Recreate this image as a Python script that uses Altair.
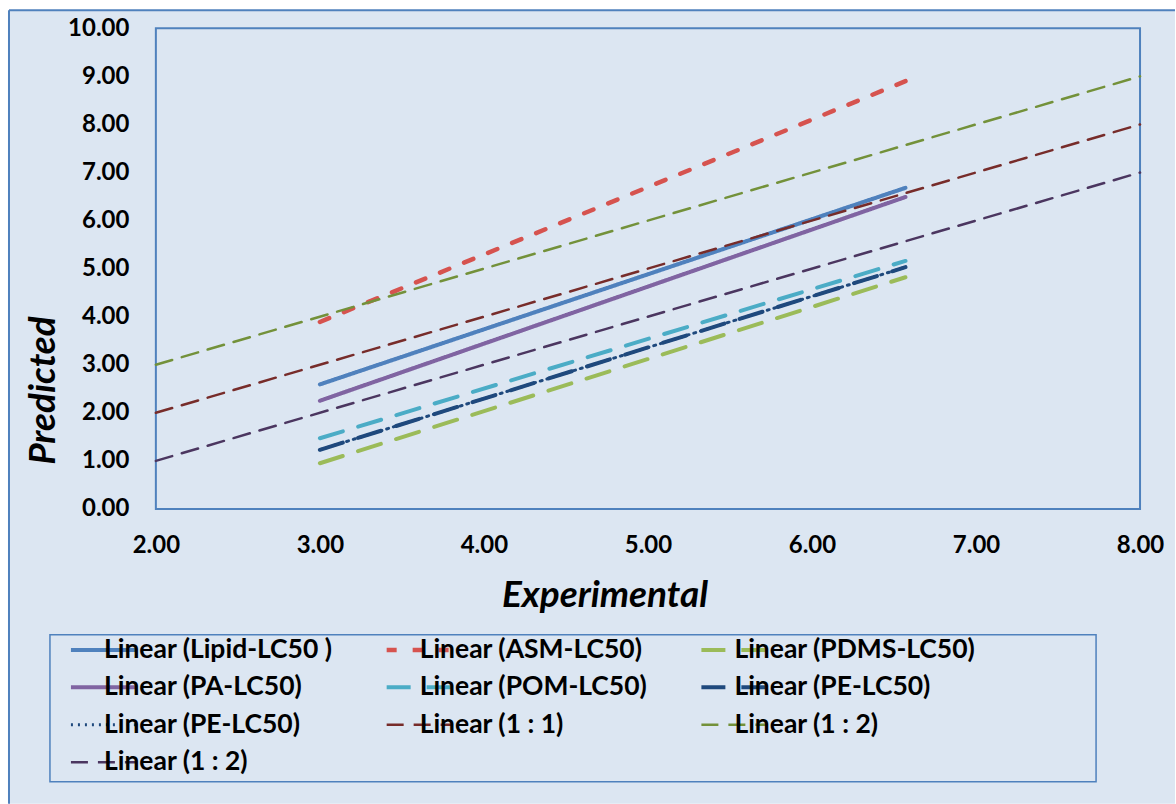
import altair as alt
import pandas as pd

# Trendline series (legend reading order, three columns, row by row)
series = [
    "Linear (Lipid-LC50 )", "Linear (ASM-LC50)", "Linear (PDMS-LC50)",
    "Linear (PA-LC50)", "Linear (POM-LC50)", "Linear (PE-LC50)",
    "Linear (PE-LC50) ", "Linear (1 : 1)", "Linear (1 : 2)",
    "Linear (1 : 2) ",
]
# line group: fitted lines, dotted fit, reference lines
group = ["fit", "fit", "fit", "fit", "fit", "fit", "dot", "ref", "ref", "ref"]

# End points of each fitted line (Experimental -> Predicted)
x_start = [3.00, 3.00, 3.00, 3.00, 3.00, 3.00, 3.00, 2.00, 2.00, 2.00]
x_end   = [6.57, 6.57, 6.57, 6.57, 6.57, 6.57, 6.57, 8.00, 8.00, 8.00]
y_start = [2.59, 3.89, 0.95, 2.25, 1.47, 1.23, 1.23, 2.00, 3.00, 1.00]
y_end   = [6.68, 8.90, 4.82, 6.49, 5.16, 5.03, 5.03, 8.00, 9.00, 7.00]

colors = ["#4f81bd", "#d6534f", "#9bbb59", "#8064a2", "#4bacc6", "#1f497d",
          "#1f497d", "#772c2a", "#73913a", "#4b3660"]
dashes = [[1, 0], [10, 16], [24, 16], [1, 0], [24, 16], [24, 16],
          [2, 5], [17, 10], [17, 10], [17, 10]]
widths = [4, 4.5, 4, 4, 4, 4, 3, 2.5, 2.5, 2.5]
group_width = {"fit": 4, "dot": 3, "ref": 2.5}

# Vega fills a vertical 3-column legend of 10 entries in this sequence;
# ordering the scale domain this way makes the legend read row by row.
slot = [0, 3, 6, 8, 1, 4, 7, 9, 2, 5]
domain = [series[i] for i in slot]
dom_colors = [colors[i] for i in slot]
dom_dashes = [dashes[i] for i in slot]

BG = "#dce6f2"
EDGE = "#4f81bd"
FONT = "Lato"

rows = []
for i, name in enumerate(series):
    rows.append({"series": name, "group": group[i], "x": x_start[i], "y": y_start[i]})
    rows.append({"series": name, "group": group[i], "x": x_end[i], "y": y_end[i]})
lines = pd.DataFrame(rows)

W, H = 985, 481

xscale = alt.Scale(domain=[2, 8], nice=False)
yscale = alt.Scale(domain=[0, 10], nice=False)

x_axis = alt.Axis(
    title="Experimental", values=[2, 3, 4, 5, 6, 7, 8], format=".2f",
    ticks=False, domain=False, grid=False, labelFlush=False,
    labelFont=FONT, labelFontSize=24, labelFontWeight="bold",
    labelColor="black", labelPadding=25,
    titleFont=FONT, titleFontSize=37, titleFontWeight="bold",
    titleFontStyle="italic", titleColor="black",
    titleX=449, titleY=98, titleAlign="center", titleBaseline="alphabetic",
    zindex=1,
)
y_axis = alt.Axis(
    title="Predicted", values=list(range(0, 11)), format=".2f",
    ticks=False, domain=False, grid=False, labelFlush=False,
    labelFont=FONT, labelFontSize=24, labelFontWeight="bold",
    labelColor="black", labelPadding=27,
    titleFont=FONT, titleFontSize=37, titleFontWeight="bold",
    titleFontStyle="italic", titleColor="black",
    titleX=-101, titleY=362, titleAngle=270, titleAlign="center",
    titleBaseline="alphabetic", zindex=1,
)

# Per-entry legend stroke widths follow the series widths
width_expr = "{" + ", ".join(f"'{s}': {w}" for s, w in zip(series, widths)) + "}[datum.value]"

legend = alt.Legend(
    orient="none", legendX=-52, legendY=622, columns=3,
    title=None, symbolType="stroke", symbolSize=4356,
    labelFont=FONT, labelFontSize=26.5, labelFontWeight="bold",
    labelColor="black", labelLimit=600, labelOffset=44, columnPadding=45,
    rowPadding=10.5, padding=0, symbolStrokeWidth=alt.ExprRef(width_expr),
)

enc_color = alt.Color("series:N", scale=alt.Scale(domain=domain, range=dom_colors), legend=legend)
enc_dash = alt.StrokeDash("series:N", scale=alt.Scale(domain=domain, range=dom_dashes), legend=legend)

one = pd.DataFrame({"k": [0]})

# Outer chart area (fill plus top/left edge lines)
frame = alt.Chart(one).mark_rect(fill=BG, stroke=None).encode(
    x=alt.value(-147), x2=alt.value(1020), y=alt.value(-18), y2=alt.value(776)
)
top_edge = alt.Chart(one).mark_rule(color=EDGE, strokeWidth=2).encode(
    x=alt.value(-147), x2=alt.value(1020), y=alt.value(-18)
)
left_edge = alt.Chart(one).mark_rule(color=EDGE, strokeWidth=2).encode(
    x=alt.value(-147), y=alt.value(-18), y2=alt.value(776)
)
# Box around the legend entries
legend_box = alt.Chart(one).mark_rect(fill=None, stroke=EDGE, strokeWidth=1.5).encode(
    x=alt.value(-106), x2=alt.value(941), y=alt.value(607), y2=alt.value(754)
)

# Plot area border drawn on the data scales
border = alt.Chart(pd.DataFrame({"x0": [2], "x1": [8], "y0": [0], "y1": [10]})).mark_rect(
    fill=BG, stroke=EDGE, strokeWidth=2
).encode(
    x=alt.X("x0:Q", scale=xscale, axis=x_axis), x2="x1:Q",
    y=alt.Y("y0:Q", scale=yscale, axis=y_axis), y2="y1:Q",
)


def line_layer(grp, width, wide_asm=False):
    layer = alt.Chart(lines).transform_filter(alt.datum.group == grp)
    if wide_asm:
        layer = layer.transform_filter(alt.datum.series == series[1])
    elif grp == "fit":
        layer = layer.transform_filter(alt.datum.series != series[1])
    return layer.mark_line(strokeCap="round", strokeWidth=width).encode(
        x=alt.X("x:Q", scale=xscale, axis=x_axis),
        y=alt.Y("y:Q", scale=yscale, axis=y_axis),
        color=enc_color, strokeDash=enc_dash, detail="series:N",
    )


fit_lines = line_layer("fit", group_width["fit"])
asm_line = line_layer("fit", widths[1], wide_asm=True)
dot_line = line_layer("dot", group_width["dot"])
ref_lines = line_layer("ref", group_width["ref"])

chart = alt.layer(
    frame, top_edge, left_edge, legend_box, border,
    fit_lines, asm_line, dot_line, ref_lines,
).properties(
    width=W, height=H,
    padding={"left": 8, "top": 9, "right": 0, "bottom": 0},
    background="white",
).configure_view(stroke=None, fill=None)

chart.save("out.html", embed_options={"renderer": "svg", "actions": False})
